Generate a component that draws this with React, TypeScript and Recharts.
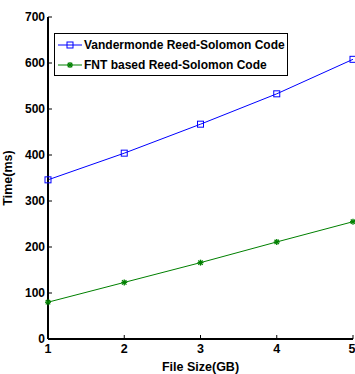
import { Line, LineChart, XAxis, YAxis } from "recharts";

const fileSizes = [1, 2, 3, 4, 5];
const vandermondeMs = [346, 404, 467, 533, 608];
const fntMs = [80, 123, 166, 211, 255];
const yTicks = [0, 100, 200, 300, 400, 500, 600, 700];

const datos = fileSizes.map((tamanho, i) => ({
  tamanho,
  vandermonde: vandermondeMs[i],
  fnt: fntMs[i],
}));

const fonte = "'Liberation Sans', Arial, sans-serif";
const azul = "#0000ff";
const verde = "#008000";

function Quadrado(props: any) {
  const { cx, cy } = props;
  if (cx == null || cy == null) return <g />;
  return <rect x={cx - 3} y={cy - 3} width={6} height={6} fill="none" stroke={azul} strokeWidth={1} />;
}

function Estrela(props: any) {
  const { cx, cy } = props;
  if (cx == null || cy == null) return <g />;
  return (
    <g stroke={verde} strokeWidth={1.3}>
      <line x1={cx - 3} y1={cy} x2={cx + 3} y2={cy} />
      <line x1={cx} y1={cy - 3} x2={cx} y2={cy + 3} />
      <line x1={cx - 2.2} y1={cy - 2.2} x2={cx + 2.2} y2={cy + 2.2} />
      <line x1={cx - 2.2} y1={cy + 2.2} x2={cx + 2.2} y2={cy - 2.2} />
    </g>
  );
}

const semRotulo = () => <g />;

export default function App() {
  return (
    <div style={{ position: "absolute", left: 0, top: 0, width: 355, height: 374, background: "#fff" }}>
      <LineChart
        width={355}
        height={374}
        data={datos}
        margin={{ top: 17, right: 2, left: 0, bottom: 0 }}
        style={{ fontFamily: fonte }}
      >
        <XAxis
          xAxisId="b"
          dataKey="tamanho"
          type="number"
          domain={[1, 5]}
          ticks={fileSizes}
          height={35}
          tickSize={-4}
          tickMargin={9}
          axisLine={{ stroke: "#000", strokeWidth: 2 }}
          tickLine={{ stroke: "#000" }}
          tick={{ fill: "#000", fontSize: 12.5, fontWeight: "bold" }}
          label={{
            value: "File Size(GB)",
            position: "insideBottom",
            offset: 3,
            fill: "#000",
            fontSize: 12.5,
            fontWeight: "bold",
          }}
        />
        <XAxis
          xAxisId="t"
          orientation="top"
          dataKey="tamanho"
          type="number"
          domain={[1, 5]}
          ticks={fileSizes}
          height={0}
          tickSize={-4}
          axisLine={{ stroke: "#000", strokeWidth: 1 }}
          tickLine={{ stroke: "#000" }}
          tick={semRotulo}
        />
        <YAxis
          yAxisId="l"
          type="number"
          domain={[0, 700]}
          ticks={yTicks}
          width={48}
          tickSize={-4}
          tickMargin={7}
          axisLine={{ stroke: "#000", strokeWidth: 2 }}
          tickLine={{ stroke: "#000" }}
          tick={{ fill: "#000", fontSize: 12, fontWeight: "bold" }}
          label={{
            value: "Time(ms)",
            angle: -90,
            position: "insideLeft",
            offset: 8,
            fill: "#000",
            fontSize: 12.5,
            fontWeight: "bold",
            style: { textAnchor: "middle" },
          }}
        />
        <YAxis
          yAxisId="r"
          orientation="right"
          type="number"
          domain={[0, 700]}
          ticks={yTicks}
          width={0}
          tickSize={-4}
          axisLine={{ stroke: "#000", strokeWidth: 1 }}
          tickLine={{ stroke: "#000" }}
          tick={semRotulo}
        />
        <Line
          xAxisId="b"
          yAxisId="l"
          dataKey="vandermonde"
          stroke={azul}
          strokeWidth={1}
          dot={<Quadrado />}
          isAnimationActive={false}
        />
        <Line
          xAxisId="b"
          yAxisId="l"
          dataKey="fnt"
          stroke={verde}
          strokeWidth={1}
          dot={<Estrela />}
          isAnimationActive={false}
        />
      </LineChart>
      <div
        style={{
          position: "absolute",
          left: 54,
          top: 33,
          width: 234,
          height: 43,
          border: "1px solid #000",
          background: "#fff",
          fontFamily: fonte,
          fontWeight: "bold",
          fontSize: 12,
          boxSizing: "border-box",
        }}
      >
        {[
          { nome: "Vandermonde Reed-Solomon Code", cor: azul, Marca: Quadrado },
          { nome: "FNT based Reed-Solomon Code", cor: verde, Marca: Estrela },
        ].map(({ nome, cor, Marca }, i) => (
          <div key={nome} style={{ position: "absolute", left: 3, top: 3 + i * 20, height: 16, display: "flex", alignItems: "center" }}>
            <svg width={24} height={16}>
              <line x1={0} y1={8} x2={24} y2={8} stroke={cor} strokeWidth={1} />
              <Marca cx={12} cy={8} />
            </svg>
            <span style={{ marginLeft: 2, whiteSpace: "nowrap" }}>{nome}</span>
          </div>
        ))}
      </div>
    </div>
  );
}
